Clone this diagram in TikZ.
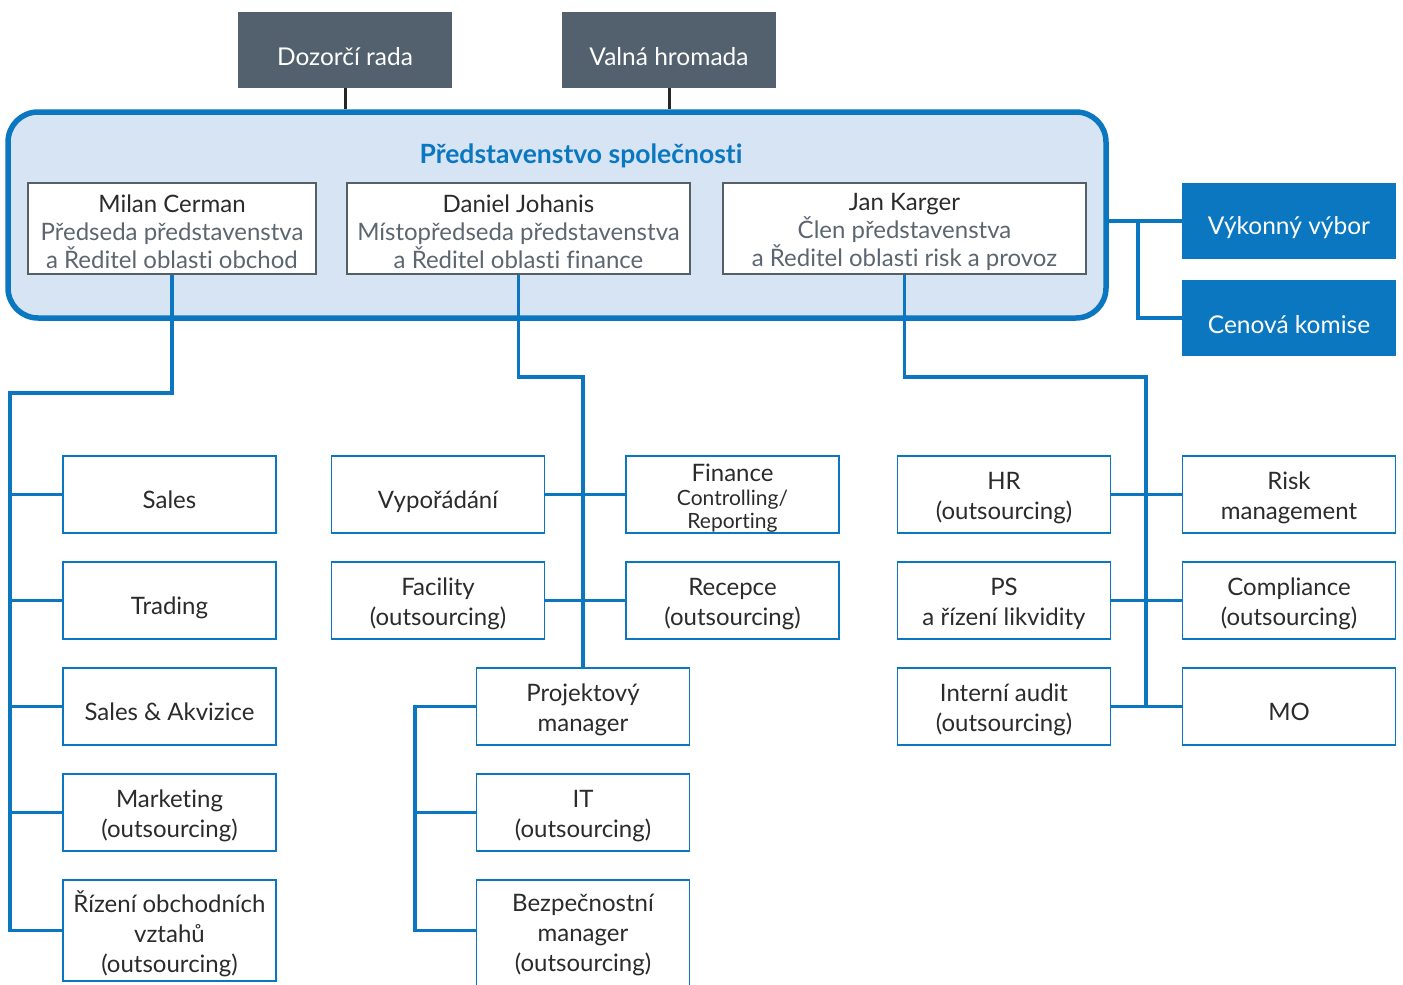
\documentclass[tikz,border=0pt]{standalone}
\usepackage{fontspec}
\setmainfont[Ligatures={NoCommon}]{Lato}
\newcommand\tb[2][-4pt]{\raisebox{#1}[\height][\depth]{\begin{tabular}{@{}c@{}}#2\end{tabular}}}
\newcommand\tbm[2][0pt]{\raisebox{#1}[\height][\depth]{\vbox{\lineskiplimit=-20pt\let\\\cr\halign{\hfil##\hfil\cr#2\crcr}}}}
\definecolor{cblue}{HTML}{0A77C0}
\definecolor{clight}{HTML}{D6E4F4}
\definecolor{cdark}{HTML}{53616E}
\definecolor{cgray}{HTML}{5C6670}
\definecolor{ctext}{HTML}{2B2B2B}
\definecolor{cframe}{HTML}{555F68}
\tikzset{
  unit/.style={draw=cblue, line width=1.6pt, fill=white, minimum width=213pt, minimum height=77pt,
    inner sep=1pt, text=ctext, font=\fontsize{24}{30}\selectfont},
  topbox/.style={fill=cdark, minimum width=214pt, minimum height=76pt, text=white, font=\fontsize{24.5}{30}\selectfont,
    execute at begin node={\rule{0pt}{32pt}}},
  bluebox/.style={fill=cblue, minimum width=214pt, minimum height=76pt, text=white, font=\fontsize{24.5}{30}\selectfont,
    execute at begin node={\rule{0pt}{32pt}}},
  member/.style={draw=cframe, line width=2.6pt, fill=white, minimum height=91pt, inner sep=1pt,
    text=cgray, font=\fontsize{24}{28}\selectfont},
  board/.style={draw=cblue, line width=5.5pt, fill=clight, rounded corners=30pt, minimum width=1098pt, minimum height=206pt},
  conn/.style={draw=cblue, line width=3.2pt},
  blk/.style={draw=black!85, line width=3pt}
}
\begin{document}
\begin{tikzpicture}[x=1pt,y=-1pt]
\useasboundingbox (0,0) rectangle (1403,985);
% top boxes
\node[topbox] (dozor) at (345,50) {Dozorčí rada};
\node[topbox] (valna) at (669,50) {Valná hromada};
% board
\node[board] (board) at (557,215) {};
\draw[blk] (dozor.south) -- (dozor.south |- board.north);
\draw[blk] (valna.south) -- (valna.south |- board.north);
\node[text=cblue, font=\fontsize{26.5}{30}\selectfont\bfseries] (title) at (581,156) {Představenstvo společnosti};
\node[member, minimum width=288pt] (milan) at (172,228.5) {\tbm[-3pt]{\textcolor{ctext}{Milan Cerman}\\Předseda představenstva\\a Ředitel oblasti obchod}};
\node[member, minimum width=343pt] (daniel) at (518.5,228.5) {\tbm[-3pt]{\textcolor{ctext}{Daniel Johanis}\\Místopředseda představenstva\\a Ředitel oblasti finance}};
\node[member, minimum width=363pt] (jan) at (904.5,228.5) {\tbm[-3pt]{\textcolor{ctext}{Jan Karger}\\Člen představenstva\\a Ředitel oblasti risk a provoz}};
% right committees
\node[bluebox] (vv) at (1289,221) {Výkonný výbor};
\node[bluebox] (ck) at (1289,318) {Cenová komise};
\coordinate (vb) at (1138,221);
\draw[conn] (board.east |- vv.west) -- (vv.west);
\draw[conn] (vb) |- (ck.west);
% left column
\node[unit] (sales) at (169.5,494.5) {\tb[-7.5pt]{Sales}};
\node[unit] (trading) at (169.5,600.5) {\tb[-7.5pt]{Trading}};
\node[unit] (akv) at (169.5,706.5) {\tb[-7.5pt]{Sales \& Akvizice}};
\node[unit] (mkt) at (169.5,812.5) {\tb{Marketing\\(outsourcing)}};
\node[unit, minimum height=101pt] (rizeni) at (169.5,930.5) {\tb[-6pt]{Řízení obchodních\\vztahů\\(outsourcing)}};
\coordinate (mL) at (10,393);
\draw[conn] (milan.south) |- (mL) -- (mL |- rizeni.west) -- (rizeni.west);
\foreach \n in {sales,trading,akv,mkt} \draw[conn] (mL |- \n.west) -- (\n.west);
% middle column
\node[unit, font=\fontsize{24}{24}\selectfont] (fin) at (732.5,494.5) {\tb[-5.5pt]{Finance\\{\fontsize{21}{23}\selectfont Controlling/}\\[-1pt]{\fontsize{21}{23}\selectfont Reporting}}};
\node[unit] (vypo) at (438,494.5) {\tb[-7.5pt]{Vypořádání}};
\node[unit] (fac) at (438,600.5) {\tb{Facility\\(outsourcing)}};
\node[unit] (rec) at (732.5,600.5) {\tb{Recepce\\(outsourcing)}};
\node[unit] (proj) at (583,706.5) {\tb{Projektový\\manager}};
\node[unit] (it) at (583,812.5) {\tb{IT\\(outsourcing)}};
\node[unit, minimum height=110pt] (bezp) at (583,935) {\tb[0pt]{Bezpečnostní\\manager\\(outsourcing)}};
\coordinate (dM) at (583,377);
\draw[conn] (daniel.south) |- (dM) -- (proj.north);
\draw[conn] (vypo.east) -- (fin.west);
\draw[conn] (fac.east) -- (rec.west);
\coordinate (pL) at (415,706.5);
\coordinate (pB) at (415,930.5);
\draw[conn] (proj.west) -- (pL) -- (pB) -- (pB -| bezp.west);
\draw[conn] (pL |- it.west) -- (it.west);
% right column
\node[unit] (hr) at (1004,494.5) {\tb{HR\\(outsourcing)}};
\node[unit] (risk) at (1289,494.5) {\tb{Risk\\management}};
\node[unit] (ps) at (1004,600.5) {\tb{PS\\a řízení likvidity}};
\node[unit] (comp) at (1289,600.5) {\tb{Compliance\\(outsourcing)}};
\node[unit] (audit) at (1004,706.5) {\tb{Interní audit\\(outsourcing)}};
\node[unit] (mo) at (1289,706.5) {\tb[-7.5pt]{MO}};
\coordinate (jR) at (1146,377);
\draw[conn] (jan.south) |- (jR) -- (jR |- mo.west);
\draw[conn] (hr.east) -- (risk.west);
\draw[conn] (ps.east) -- (comp.west);
\draw[conn] (audit.east) -- (mo.west);
\end{tikzpicture}
\end{document}
